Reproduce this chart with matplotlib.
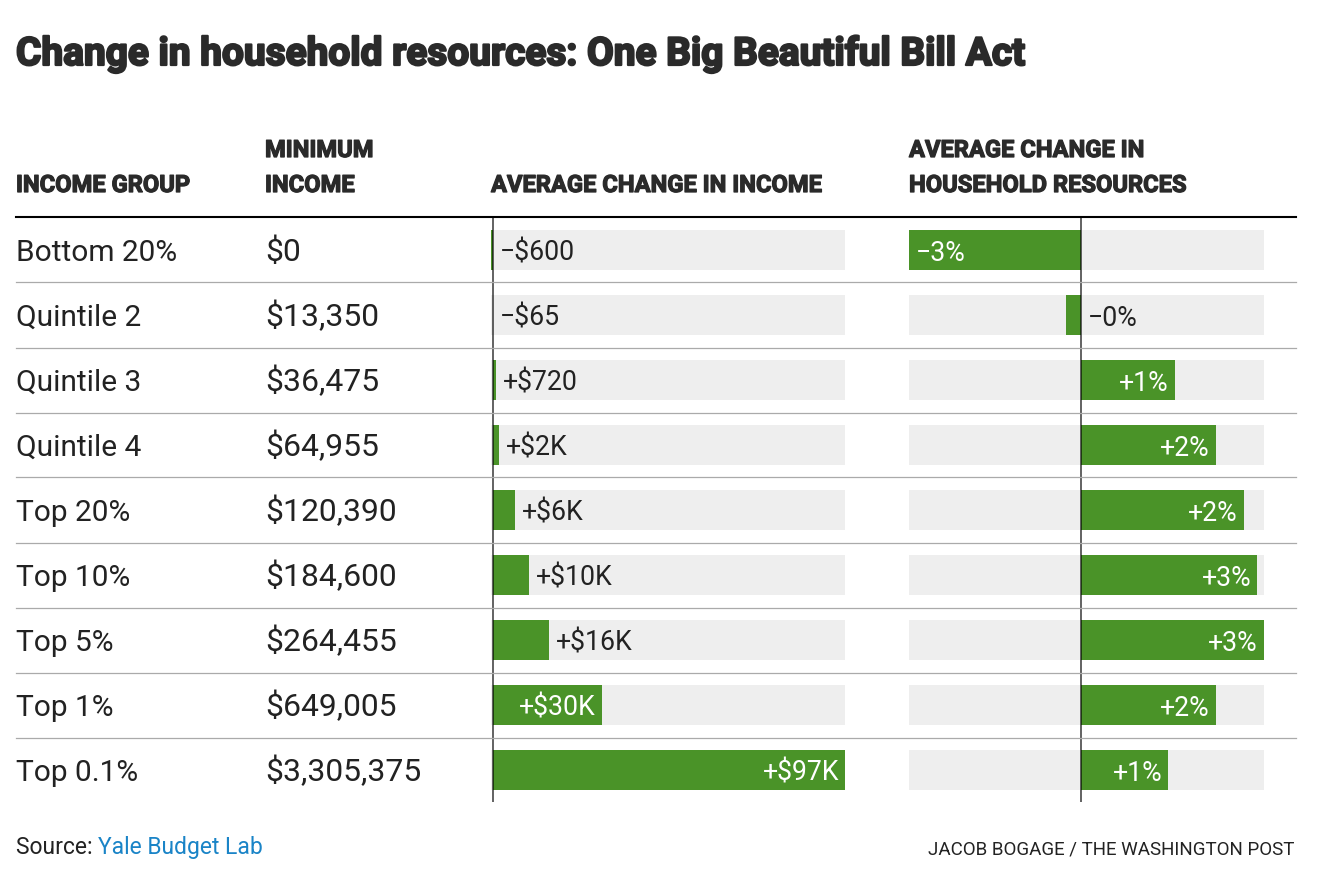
import matplotlib
matplotlib.use('Agg')
import matplotlib.pyplot as plt
from matplotlib.lines import Line2D
import matplotlib.patheffects as pe

W, H = 1318, 872
DPI = 100

# ---------------- data ----------------
title = "Change in household resources: One Big Beautiful Bill Act"
groups = ["Bottom 20%", "Quintile 2", "Quintile 3", "Quintile 4", "Top 20%",
          "Top 10%", "Top 5%", "Top 1%", "Top 0.1%"]
min_income = ["$0", "$13,350", "$36,475", "$64,955", "$120,390", "$184,600",
              "$264,455", "$649,005", "$3,305,375"]
income_change = [-600, -65, 720, 1500, 6000, 9800, 15500, 30000, 97000]
income_labels = ["\u2212$600", "\u2212$65", "+$720", "+$2K", "+$6K", "+$10K",
                 "+$16K", "+$30K", "+$97K"]
resource_change = [-2.57, -0.22, 1.40, 2.01, 2.43, 2.63, 2.73, 2.01, 1.30]
resource_labels = ["\u22123%", "\u22120%", "+1%", "+2%", "+2%", "+3%", "+3%",
                   "+2%", "+1%"]

GREEN = '#4a9328'
BG = '#eeeeee'
TXT = '#222222'
HEAD = '#2a2a2a'
LINK = '#1a84c7'
FAM = ['Roboto', 'DejaVu Sans']

fig = plt.figure(figsize=(W / DPI, H / DPI), dpi=DPI)
fig.patch.set_facecolor('white')
renderer = fig.canvas.get_renderer()


def fx(x):
    return x / W


def fy(y):
    return 1 - y / H


def wpx(t):
    return t.get_window_extent(renderer).width


def fit(t, target):
    fs = t.get_fontsize()
    t.set_fontsize(fs * target / wpx(t))
    return t.get_fontsize()


def ftext(x, y, s, **kw):
    kw.setdefault('family', FAM)
    kw.setdefault('color', TXT)
    kw.setdefault('va', 'baseline')
    return fig.text(fx(x), fy(y), s, **kw)


# ---------------- title ----------------
t = ftext(16, 65, title, fontsize=26, fontweight='bold', color=HEAD)
fit(t, 1010)
t.set_path_effects([pe.withStroke(linewidth=1.6, foreground=HEAD)])

# ---------------- headers ----------------
heavy = [pe.withStroke(linewidth=0.9, foreground=HEAD)]
h = ftext(16, 192, "INCOME GROUP", fontsize=14, fontweight='bold', color=HEAD)
hfs = fit(h, 175)
h.set_path_effects(heavy)
for x, y, s in [(265, 157, "MINIMUM"), (265, 192, "INCOME"),
                (491, 192, "AVERAGE CHANGE IN INCOME"),
                (909, 157, "AVERAGE CHANGE IN"), (909, 192, "HOUSEHOLD RESOURCES")]:
    ftext(x, y, s, fontsize=hfs, fontweight='bold', color=HEAD, path_effects=heavy)

# header rule and row separators
fig.add_artist(Line2D([fx(16), fx(1296)], [fy(217), fy(217)], color='black', lw=1.5))
n = len(groups)
for i in range(n - 1):
    yy = 250 + 65 * i + 32.5
    fig.add_artist(Line2D([fx(16), fx(1296)], [fy(yy), fy(yy)], color='#aaaaaa', lw=0.9))

# ---------------- row labels ----------------
r = ftext(16, 261, groups[0], fontsize=20)
rfs = fit(r, 161)
for i in range(1, n):
    ftext(16, 261 + 65 * i, groups[i], fontsize=rfs)
m = ftext(265, 261 + 65 * (n - 1), min_income[-1], fontsize=rfs)
mfs = fit(m, 156)
for i in range(n - 1):
    ftext(265, 261 + 65 * i, min_income[i], fontsize=mfs)

# bar-label font size
tmp = ftext(0, 0, income_labels[0], fontsize=18)
bfs = fit(tmp, 75)
tmp.remove()

PT = 72 / DPI  # points per pixel


def bar_panel(x0, x1, values, labels):
    ax = fig.add_axes([fx(x0), fy(802), (x1 - x0) / W, (802 - 217) / H])
    lo, hi = min(values), max(values)
    ax.set_xlim(lo, hi)
    ax.set_ylim(n - 0.5, -0.5)
    ax.axis('off')
    bh = 40 / 65
    ax.barh(range(n), [hi - lo] * n, left=lo, height=bh, color=BG, zorder=1)
    ax.barh(range(n), values, left=0, height=bh, color=GREEN, zorder=2)
    ax.axvline(0, color='black', alpha=0.6, lw=2 * PT, zorder=4)
    pxw = x1 - x0
    for i, (v, lab) in enumerate(zip(values, labels)):
        barlen = abs(v) / (hi - lo) * pxw
        probe = fig.text(0, 0, lab, fontsize=bfs, family=FAM)
        lw = wpx(probe)
        probe.remove()
        inside = barlen > lw + 14
        if inside:
            if v > 0:
                xy, dx, ha = (v, i), -6, 'right'
            else:
                xy, dx, ha = (v, i), 7, 'left'
            col = 'white'
        else:
            xy = (max(v, 0), i)
            dx, ha, col = 7, 'left', TXT
        ax.annotate(lab, xy=xy, xytext=(dx * PT, -11 * PT), textcoords='offset points',
                    ha=ha, va='baseline', fontsize=bfs, family=FAM, color=col, zorder=5,
                    annotation_clip=False)
    return ax


bar_panel(491, 845, income_change, income_labels)
bar_panel(909, 1264, resource_change, resource_labels)

# ---------------- footer ----------------
src = ftext(16, 854, "Source: Yale Budget Lab", fontsize=15)
sfs = fit(src, 248)
src.remove()
s1 = ftext(16, 854, "Source: ", fontsize=sfs)
w1 = wpx(s1)
ftext(16 + w1, 854, "Yale Budget Lab", fontsize=sfs, color=LINK)
cr = ftext(1294, 854, "JACOB BOGAGE / THE WASHINGTON POST", fontsize=14, ha='right')
fit(cr, 368)

fig.savefig('out.png', dpi=DPI, facecolor='white')
